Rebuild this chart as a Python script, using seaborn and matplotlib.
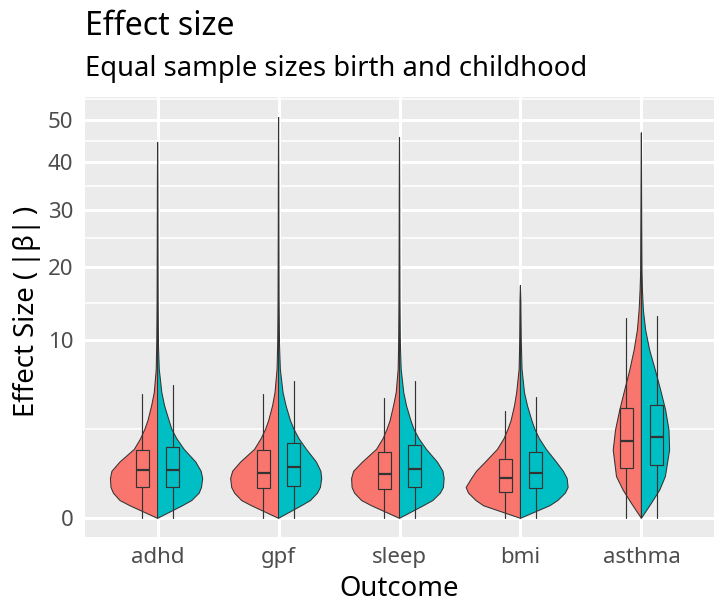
import numpy as np
import matplotlib
matplotlib.use("Agg")
import matplotlib.pyplot as plt
import seaborn as sns

# ---------------- data ----------------
outcomes = ["adhd", "gpf", "sleep", "bmi", "asthma"]
periods = ["birth", "childhood"]
period_colors = ["#F8766D", "#00BFC4"]

# violin outlines: effect-size levels and half widths (in category units)
levels_main = [0, 0.05, 0.1, 0.2, 0.3, 0.5, 0.7, 1.0, 1.5, 2, 2.5, 3, 4, 5, 7, 10, 15, 25, 35]
levels_asthma = [0, 0.07, 0.25, 0.55, 1.47, 2.46, 3.7, 5.19, 6.94, 8.94, 11.19, 13.69, 16.45, 19.5, 30]

adhd_birth = [0, .228, .311, .365, .385, .390, .377, .311, .192, .140, .105, .080, .049, .027, .011, .0066, .0041, .0025, .0016]
adhd_child = [0, .206, .283, .344, .363, .373, .360, .316, .220, .159, .118, .096, .058, .035, .014, .0066, .0041, .0025, .0016]
gpf_birth = [0, .223, .305, .363, .387, .396, .379, .313, .198, .144, .107, .082, .049, .029, .012, .0066, .0041, .0025, .0016]
gpf_child = [0, .190, .264, .322, .346, .357, .350, .313, .231, .169, .128, .099, .062, .037, .015, .0074, .0041, .0025, .0016]
sleep_birth = [0, .231, .313, .371, .392, .396, .379, .305, .190, .136, .103, .078, .049, .027, .011, .0066, .0041, .0025, .0016]
sleep_child = [0, .198, .276, .338, .363, .369, .359, .313, .223, .161, .120, .095, .058, .035, .014, .0066, .0041, .0025, .0016]
bmi_birth = [0, .305, .367, .429, .449, .404, .363, .289, .190, .136, .103, .078, .049, .031, .011, .0058, .0033, 0, 0]
bmi_child = [0, .243, .309, .371, .394, .386, .354, .297, .214, .157, .120, .095, .058, .033, .013, .0066, .0033, 0, 0]
asthma_birth = [0, .082, .151, .206, .233, .214, .179, .138, .096, .060, .033, .019, .011, .0058, .0033]
asthma_child = [0, .082, .151, .198, .233, .228, .200, .159, .115, .068, .035, .016, .0082, .0049, .0025]

violin_max = [44.6, 50.8, 45.8, 17.1, 46.9]

# box statistics (effect size)
q1_birth = [0.303, 0.284, 0.271, 0.213, 0.789]
med_birth = [0.727, 0.656, 0.627, 0.520, 1.90]
q3_birth = [1.47, 1.47, 1.387, 1.098, 3.86]
whi_birth = [4.87, 4.85, 4.59, 3.63, 12.62]
q1_child = [0.303, 0.335, 0.303, 0.284, 0.896]
med_child = [0.745, 0.820, 0.757, 0.656, 2.085]
q3_child = [1.59, 1.775, 1.709, 1.374, 4.05]
whi_child = [5.61, 5.97, 5.97, 4.62, 12.91]
wlo = [0, 0, 0, 0, 0]

y_breaks = [0, 10, 20, 30, 40, 50]

# ---------------- styling ----------------
sns.set_theme(style="darkgrid")
plt.rcParams["font.family"] = ["Noto Sans", "DejaVu Sans"]

W, H = 715, 605
fig = plt.figure(figsize=(W / 100, H / 100), dpi=100)
fig.patch.set_facecolor("white")
pl, pr, pt, pb = 85, 714, 97, 537
ax = fig.add_axes([pl / W, 1 - pb / H, (pr - pl) / W, (pb - pt) / H])
ax.set_facecolor("#EBEBEB")


def fwd(y):
    y = np.asarray(y, dtype=float)
    return np.sign(y) * np.sqrt(np.abs(y))


def inv(s):
    s = np.asarray(s, dtype=float)
    return np.sign(s) * s ** 2


ax.set_yscale("function", functions=(fwd, inv))

violin_widths = {
    "adhd": (adhd_birth, adhd_child),
    "gpf": (gpf_birth, gpf_child),
    "sleep": (sleep_birth, sleep_child),
    "bmi": (bmi_birth, bmi_child),
    "asthma": (asthma_birth, asthma_child),
}

edge = "#333333"
for i, name in enumerate(outcomes):
    levels = levels_asthma if name == "asthma" else levels_main
    top = violin_max[i]
    for side, (wid, col) in enumerate(zip(violin_widths[name], period_colors)):
        lv = np.array(levels, dtype=float)
        ww = np.array(wid, dtype=float)
        keep = lv < top
        lv = np.append(lv[keep], top)
        ww = np.append(ww[keep], 0.0)
        sign = -1 if side == 0 else 1
        ax.fill(i + sign * ww, lv, facecolor=col, edgecolor=edge, linewidth=0.75, zorder=2)

    for side, col in enumerate(period_colors):
        if side == 0:
            st = dict(q1=q1_birth[i], med=med_birth[i], q3=q3_birth[i], whislo=wlo[i], whishi=whi_birth[i])
            pos = i - 0.126
        else:
            st = dict(q1=q1_child[i], med=med_child[i], q3=q3_child[i], whislo=wlo[i], whishi=whi_child[i])
            pos = i + 0.126
        ax.bxp([st], positions=[pos], widths=0.105, patch_artist=True,
               showfliers=False, showcaps=False, manage_ticks=False,
               boxprops=dict(facecolor=col, edgecolor=edge, linewidth=0.85),
               whiskerprops=dict(color=edge, linewidth=0.85),
               medianprops=dict(color=edge, linewidth=1.6), zorder=3)

ax.set_xlim(-0.6, 4.6)
ax.set_ylim(-0.110, 56.0)
ax.set_xticks(range(len(outcomes)))
ax.set_xticklabels(outcomes)
ax.set_yticks(y_breaks)
ax.set_yticklabels([str(b) for b in y_breaks])
sb = fwd(y_breaks)
minor_s = list((sb[:-1] + sb[1:]) / 2) + [sb[-1] + (sb[-1] - sb[-2]) / 2]
ax.set_yticks(inv(minor_s), minor=True)

ax.grid(which="major", color="white", linewidth=2.2)
ax.grid(which="minor", axis="y", color="white", linewidth=1.1)
ax.set_axisbelow(True)
for s in ax.spines.values():
    s.set_visible(False)
ax.tick_params(axis="both", which="major", length=4.1, width=1.0, color=edge,
               labelsize=16, labelcolor="#4D4D4D")
ax.tick_params(axis="x", pad=3.2)
ax.tick_params(axis="y", pad=4.3)
ax.tick_params(which="minor", length=0)
ax.set_xlabel("")
ax.set_ylabel("")

fig.text(((pl + pr) / 2) / W, 1 - 596 / H, "Outcome", ha="center", va="baseline",
         fontsize=19.8, color="black")
fig.text(27 / W, 1 - 311 / H, "Effect Size (\u2009|β|\u2009)", ha="center", va="center",
         rotation=90, fontsize=19.8, color="black")
fig.text(pl / W, 1 - 35 / H, "Effect size", ha="left", va="baseline", fontsize=23, color="black")
fig.text(pl / W, 1 - 76 / H, "Equal sample sizes birth and childhood", ha="left", va="baseline",
         fontsize=19.7, color="black")

fig.savefig("out.png", dpi=100)
